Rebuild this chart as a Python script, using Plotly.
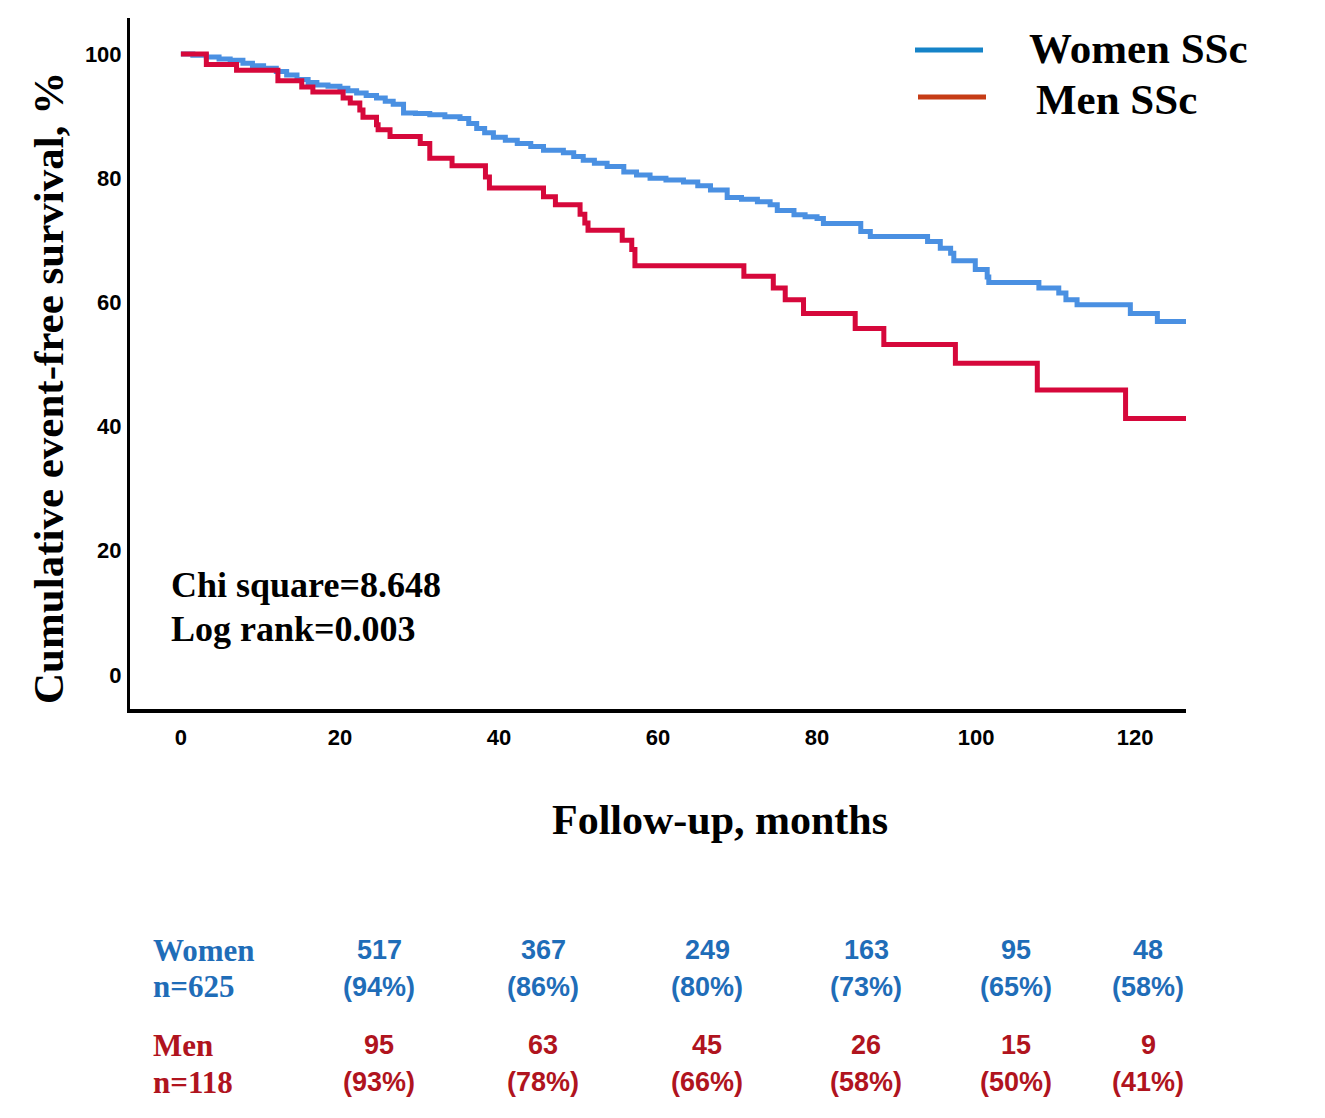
import plotly.graph_objects as go

# ---- data ----
women_t = [0, 1.5, 3.2, 4.8, 6.2, 7.8, 9.0, 10.4, 12.0, 13.3, 14.6, 16.0, 17.1, 18.5, 20.0, 21.0,
           22.1, 23.3, 24.6, 25.7, 26.7, 28.0, 29.5, 31.3, 33.2, 35.1, 36.2, 37.2, 38.2, 39.3, 40.8,
           42.3, 44.0, 45.6, 48.1, 49.4, 50.6, 52.0, 53.6, 55.7, 57.3, 59.0, 61.0, 63.2, 65.0, 66.6,
           68.7, 70.5, 72.5, 74.1, 75.0, 77.1, 78.5, 80.0, 80.8, 85.5, 86.7, 93.9, 95.5, 96.8, 97.2,
           99.9, 101.4, 101.6, 107.9, 110.4, 111.3, 112.7, 119.4, 122.8, 126.4]
women_s = [100, 99.8, 99.5, 99.2, 99.0, 98.5, 98.1, 97.7, 97.2, 96.6, 95.9, 95.4, 95.0, 94.8, 94.5, 94.1,
           93.7, 93.3, 92.9, 92.4, 91.9, 90.5, 90.4, 90.2, 89.9, 89.6, 88.8, 88.0, 87.3, 86.6, 86.1,
           85.6, 85.1, 84.5, 84.1, 83.5, 82.9, 82.4, 81.9, 81.0, 80.5, 80.0, 79.7, 79.4, 78.8, 78.1,
           76.9, 76.6, 76.2, 75.7, 74.8, 74.1, 73.8, 73.5, 72.7, 71.4, 70.6, 69.8, 68.7, 67.9, 66.7,
           65.3, 64.1, 63.2, 62.3, 61.5, 60.4, 59.6, 58.2, 56.9, 56.9]

men_t = [0, 3.2, 7.0, 12.2, 15.2, 16.6, 20.4, 21.3, 22.5, 22.9, 24.6, 24.8, 26.3, 30.1, 31.3, 34.1,
         38.3, 38.8, 45.6, 47.1, 50.2, 50.8, 51.2, 55.5, 56.7, 57.1, 70.8, 74.5, 76.0, 78.3, 84.8,
         88.4, 97.4, 107.7, 118.8, 126.4]
men_s = [100, 98.3, 97.4, 95.7, 94.7, 93.9, 92.9, 92.1, 91.0, 89.8, 88.6, 87.8, 86.7, 85.6, 83.2, 82.0,
         80.2, 78.4, 77.0, 75.7, 74.2, 72.8, 71.6, 70.0, 68.5, 65.9, 64.2, 62.3, 60.4, 58.2, 55.8,
         53.2, 50.2, 45.9, 41.3, 41.3]

x_ticks = [0, 20, 40, 60, 80, 100, 120]
y_ticks = [0, 20, 40, 60, 80, 100]

women_risk = ["517", "367", "249", "163", "95", "48"]
women_pct = ["(94%)", "(86%)", "(80%)", "(73%)", "(65%)", "(58%)"]
men_risk = ["95", "63", "45", "26", "15", "9"]
men_pct = ["(93%)", "(78%)", "(66%)", "(58%)", "(50%)", "(41%)"]
table_x_px = [379, 543, 707, 866, 1016, 1148]

# ---- layout helpers (pixel -> paper) ----
L, R, T, B = 130, 1186, 18, 709
W, H = 1325, 1118


def xp(px):
    return (px - L) / (R - L)


def yp(py):
    return (B - py) / (B - T)


SERIF = "Liberation Serif, Times New Roman, serif"
SANS = "Liberation Sans, Arial, sans-serif"
TBLUE = "#1f6db8"
TRED = "#b0141e"

fig = go.Figure()
fig.add_trace(go.Scatter(x=women_t, y=women_s, mode="lines", line=dict(color="#4a90e2", width=5, shape="hv"),
                         name="Women SSc", showlegend=False, hoverinfo="skip"))
fig.add_trace(go.Scatter(x=men_t, y=men_s, mode="lines", line=dict(color="#d6083b", width=5, shape="hv"),
                         name="Men SSc", showlegend=False, hoverinfo="skip"))

ann = []
# axis titles
ann.append(dict(text="Cumulative event-free survival, %", x=xp(48), y=yp(388), xref="paper", yref="paper",
                textangle=-90, showarrow=False, xanchor="center", yanchor="middle",
                font=dict(family=SERIF, size=43, color="black", weight="bold")))
ann.append(dict(text="Follow-up, months", x=xp(720), y=yp(820), xref="paper", yref="paper",
                showarrow=False, xanchor="center", yanchor="middle",
                font=dict(family=SERIF, size=42, color="black", weight="bold")))
# stats
ann.append(dict(text="Chi square=8.648", x=xp(169), y=yp(585), xref="paper", yref="paper",
                showarrow=False, xanchor="left", yanchor="middle",
                font=dict(family=SERIF, size=36, color="black", weight="bold")))
ann.append(dict(text="Log rank=0.003", x=xp(169), y=yp(629), xref="paper", yref="paper",
                showarrow=False, xanchor="left", yanchor="middle",
                font=dict(family=SERIF, size=36, color="black", weight="bold")))
# legend text
ann.append(dict(text="Women SSc", x=xp(1027), y=yp(48), xref="paper", yref="paper",
                showarrow=False, xanchor="left", yanchor="middle",
                font=dict(family=SERIF, size=43, color="black", weight="bold")))
ann.append(dict(text="Men SSc", x=xp(1034), y=yp(99), xref="paper", yref="paper",
                showarrow=False, xanchor="left", yanchor="middle",
                font=dict(family=SERIF, size=43, color="black", weight="bold")))
# risk table labels
for txt, py, col in [("Women", 950, TBLUE), ("n=625", 987, TBLUE), ("Men", 1045, TRED), ("n=118", 1082, TRED)]:
    ann.append(dict(text=txt, x=xp(151), y=yp(py), xref="paper", yref="paper",
                    showarrow=False, xanchor="left", yanchor="middle",
                    font=dict(family=SERIF, size=31, color=col, weight="bold")))
for i, px in enumerate(table_x_px):
    for txt, py, col in [(women_risk[i], 950, TBLUE), (women_pct[i], 987, TBLUE),
                         (men_risk[i], 1045, TRED), (men_pct[i], 1082, TRED)]:
        ann.append(dict(text=txt, x=xp(px), y=yp(py), xref="paper", yref="paper",
                        showarrow=False, xanchor="center", yanchor="middle",
                        font=dict(family=SANS, size=27, color=col, weight="bold")))

shapes = [
    dict(type="line", xref="paper", yref="paper", x0=xp(915), x1=xp(983), y0=yp(50), y1=yp(50),
         line=dict(color="#1583c8", width=5)),
    dict(type="line", xref="paper", yref="paper", x0=xp(918), x1=xp(986), y0=yp(97), y1=yp(97),
         line=dict(color="#c63c16", width=5)),
]

fig.update_layout(
    width=W, height=H,
    margin=dict(l=L, r=W - R, t=T, b=H - B, pad=0),
    paper_bgcolor="white", plot_bgcolor="white",
    annotations=ann, shapes=shapes, showlegend=False,
    xaxis=dict(range=[-6.4, 126.4], tickvals=x_ticks, ticktext=[str(v) for v in x_ticks],
               showgrid=False, zeroline=False, showline=True, linecolor="black", linewidth=4,
               ticks="outside", ticklen=6, tickcolor="rgba(0,0,0,0)",
               tickfont=dict(family=SANS, size=22, color="black", weight="bold")),
    yaxis=dict(range=[-5.5, 105.8], tickvals=y_ticks, ticktext=[str(v) for v in y_ticks],
               showgrid=False, zeroline=False, showline=True, linecolor="black", linewidth=3,
               ticks="outside", ticklen=1, tickcolor="rgba(0,0,0,0)",
               tickfont=dict(family=SANS, size=22, color="black", weight="bold")),
)

fig.write_html("out.html", config={"displayModeBar": False},
               post_script="document.body.style.margin='0';document.body.style.padding='0';")
